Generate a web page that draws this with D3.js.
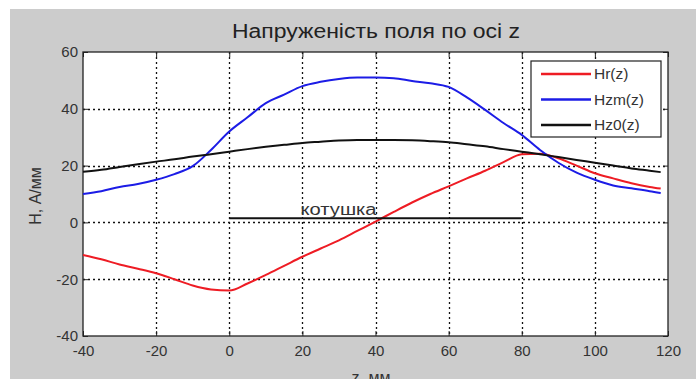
<!DOCTYPE html>
<meta charset="utf-8">
<html>
<head>
<style>
  body { margin: 0; background: #fff; }
  svg { display: block; font-family: "Liberation Sans", Arial, sans-serif; }
</style>
</head>
<script src="https://d3js.org/d3.v7.min.js"></script>
<body>
<div id="vis"></div>
<script>
  // values
  var zVals  = [-40,-35,-30,-25,-20,-15,-10,-5,0,5,10,15,20,25,30,35,40,45,50,55,60,65,70,75,80,85,90,95,100,105,110,115,118];
  var hr     = [-11.5,-13,-14.8,-16.3,-17.9,-20,-22.2,-23.6,-24,-21.5,-18.5,-15.3,-12.1,-9.2,-6.3,-3,0.3,3.7,7,10,12.7,15.5,18.2,21.2,24,24.2,22.6,20,17.3,15.5,13.8,12.5,11.9];
  var hzm    = [10,11,12.5,13.5,15,17,19.8,25.5,32,37,42,45,48,49.5,50.5,51,51,50.8,49.8,49,47.7,44,39.6,35,30.8,25.5,21,17.5,15,13,12,11,10.3];
  var hz0    = [17.8,18.5,19.5,20.5,21.4,22.2,23.2,24,24.9,25.8,26.6,27.3,28,28.4,28.8,29,29,29,28.9,28.6,28.2,27.5,26.8,25.8,24.9,24,23,22,21,20,19,18.2,17.7];
  var coilZ  = [0, 80];
  var coilH  = [1.5, 1.5];
  var xTicks = [-40,-20,0,20,40,60,80,100,120];
  var yTicks = [-40,-20,0,20,40,60];
  var seriesNames = ["Hr(z)", "Hzm(z)", "Hz0(z)"];
  var seriesColors = ["#ee1c24", "#1c1ce6", "#111111"];

  var W = 696, H = 379;
  var margin = {top: 52, right: 28, bottom: 43, left: 83},
    width = W - margin.left - margin.right,
    height = H - margin.top - margin.bottom;

  var svgRoot = d3.select("#vis").append("svg")
    .attr("width", W)
    .attr("height", H);

  // grey figure background
  svgRoot.append("rect")
    .attr("x", 10).attr("y", 9)
    .attr("width", W - 10).attr("height", H - 9)
    .style("fill", "#cccccc");

  var svg = svgRoot.append("g")
    .attr("transform", "translate(" + margin.left + "," + margin.top + ")");

  var x = d3.scaleLinear().domain([-40, 120]).range([0, width]);
  var y = d3.scaleLinear().domain([-40, 60]).range([height, 0]);

  svg.append("rect")
    .attr("width", width).attr("height", height)
    .style("fill", "#fff");

  // dotted grid
  svg.append("g").selectAll("line")
    .data(xTicks.slice(1, -1)).enter().append("line")
    .attr("x1", function(d) { return Math.round(x(d)) + 0.5; }).attr("x2", function(d) { return Math.round(x(d)) + 0.5; })
    .attr("y1", 0).attr("y2", height)
    .style("stroke", "#111").style("stroke-width", 1.3).style("stroke-dasharray", "2,3");
  svg.append("g").selectAll("line")
    .data(yTicks.slice(1, -1)).enter().append("line")
    .attr("y1", function(d) { return Math.round(y(d)) + 0.5; }).attr("y2", function(d) { return Math.round(y(d)) + 0.5; })
    .attr("x1", 0).attr("x2", width)
    .style("stroke", "#111").style("stroke-width", 1.3).style("stroke-dasharray", "2,3");

  // axes, ticks inward on all sides (plain hyphen for negatives)
  var plain = function(d) { return String(d); };
  var xAxis = svg.append("g").attr("class", "axis")
    .attr("transform", "translate(0," + height + ")")
    .call(d3.axisBottom(x).tickValues(xTicks).tickFormat(plain).tickSizeInner(-5).tickSizeOuter(0).tickPadding(9));
  var yAxis = svg.append("g").attr("class", "axis")
    .call(d3.axisLeft(y).tickValues(yTicks).tickFormat(plain).tickSizeInner(-5).tickSizeOuter(0).tickPadding(5));
  svg.append("g")
    .call(d3.axisTop(x).tickValues(xTicks).tickSizeInner(-5).tickSizeOuter(0).tickFormat(""));
  svg.append("g")
    .attr("transform", "translate(" + width + ",0)")
    .call(d3.axisRight(y).tickValues(yTicks).tickSizeInner(-5).tickSizeOuter(0).tickFormat(""));
  svg.selectAll(".domain").remove();
  svg.selectAll(".tick line").style("stroke", "#222");
  xAxis.selectAll("text").style("font-size", "15px").style("fill", "#333").style("font-family", "Liberation Sans, Arial");
  yAxis.selectAll("text").style("font-size", "15px").style("fill", "#333").style("font-family", "Liberation Sans, Arial");

  svg.append("rect")
    .attr("width", width).attr("height", height)
    .style("fill", "none").style("stroke", "#222").style("stroke-width", 1.3);

  // curves
  var line = d3.line()
    .x(function(d) { return x(d[0]); })
    .y(function(d) { return y(d[1]); })
    .curve(d3.curveMonotoneX);

  [hr, hzm, hz0].forEach(function(vals, i) {
    svg.append("path")
      .datum(zVals.map(function(z, k) { return [z, vals[k]]; }))
      .attr("d", line)
      .style("fill", "none")
      .style("stroke", seriesColors[i])
      .style("stroke-width", 2);
  });

  // coil marker
  svg.append("path")
    .datum(coilZ.map(function(z, k) { return [z, coilH[k]]; }))
    .attr("d", d3.line().x(function(d) { return x(d[0]); }).y(function(d) { return y(d[1]); }))
    .style("stroke", "#111").style("stroke-width", 2);
  svg.append("text")
    .attr("x", x(19.5)).attr("y", y(2.7))
    .attr("textLength", 76).attr("lengthAdjust", "spacingAndGlyphs")
    .style("font-size", "16px").style("fill", "#333")
    .text("котушка");

  // legend
  var legend = svg.append("g")
    .attr("transform", "translate(" + (531 - margin.left) + "," + (61 - margin.top) + ")");
  legend.append("rect")
    .attr("width", 130).attr("height", 76)
    .style("fill", "#fff").style("stroke", "#222").style("stroke-width", 1.2);
  seriesNames.forEach(function(name, i) {
    var ly = 13 + i * 25.5;
    legend.append("line")
      .attr("x1", 10).attr("x2", 60).attr("y1", ly).attr("y2", ly)
      .style("stroke", seriesColors[i]).style("stroke-width", 2.5);
    legend.append("text")
      .attr("x", 63).attr("y", ly + 5)
      .style("font-size", "15.5px").style("fill", "#333")
      .text(name);
  });

  // titles
  svgRoot.append("text")
    .attr("x", 232).attr("y", 38)
    .attr("textLength", 288).attr("lengthAdjust", "spacingAndGlyphs")
    .style("font-size", "20px").style("fill", "#222")
    .text("Напруженість поля по осі z");
  svgRoot.append("text")
    .attr("transform", "translate(41,196) rotate(-90)")
    .style("text-anchor", "middle").style("font-size", "16px").style("fill", "#333")
    .text("Н, А/мм");
  svgRoot.append("text")
    .attr("x", 371).attr("y", 383)
    .style("text-anchor", "middle").style("font-size", "16px").style("fill", "#333")
    .text("z, мм");
</script>
</body>
</html>
